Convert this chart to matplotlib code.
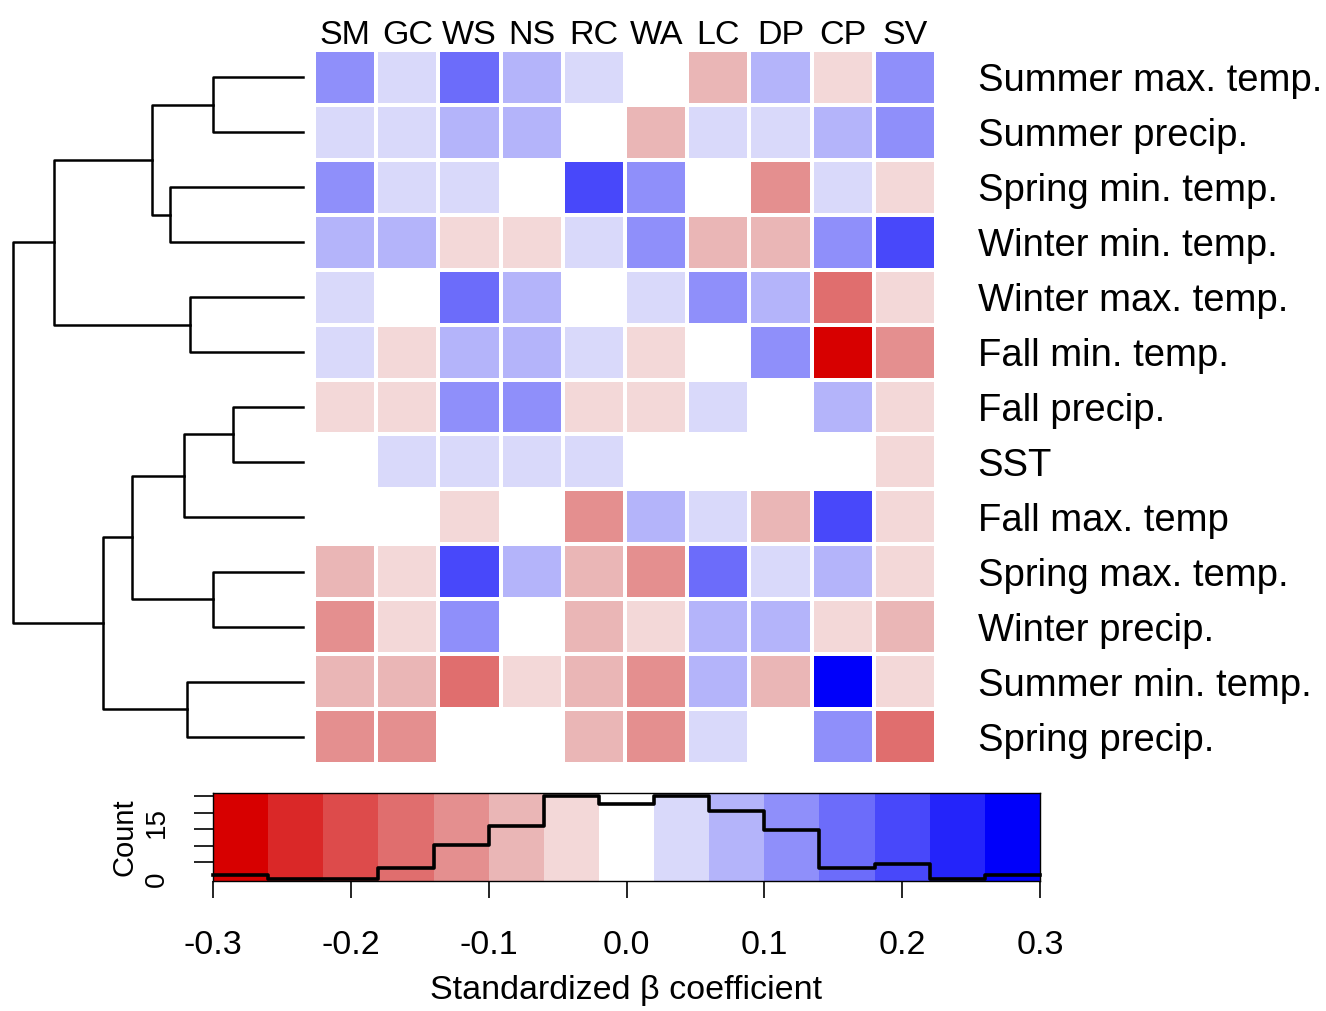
import numpy as np
import matplotlib.pyplot as plt
from matplotlib.colors import ListedColormap, BoundaryNorm

plt.rcParams['font.family'] = ['Liberation Sans', 'DejaVu Sans']

col_labels = ['SM', 'GC', 'WS', 'NS', 'RC', 'WA', 'LC', 'DP', 'CP', 'SV']
row_labels = ['Summer max. temp.', 'Summer precip.', 'Spring min. temp.',
              'Winter min. temp.', 'Winter max. temp.', 'Fall min. temp.',
              'Fall precip.', 'SST', 'Fall max. temp', 'Spring max. temp.',
              'Winter precip.', 'Summer min. temp.', 'Spring precip.']

# standardized beta coefficients, rows in dendrogram order (top to bottom)
beta = [
    [0.12, 0.04, 0.16, 0.08, 0.04, 0.00, -0.08, 0.08, -0.04, 0.12],
    [0.04, 0.04, 0.08, 0.08, 0.00, -0.08, 0.04, 0.04, 0.08, 0.12],
    [0.12, 0.04, 0.04, 0.00, 0.20, 0.12, 0.00, -0.12, 0.04, -0.04],
    [0.08, 0.08, -0.04, -0.04, 0.04, 0.12, -0.08, -0.08, 0.12, 0.20],
    [0.04, 0.00, 0.16, 0.08, 0.00, 0.04, 0.12, 0.08, -0.16, -0.04],
    [0.04, -0.04, 0.08, 0.08, 0.04, -0.04, 0.00, 0.12, -0.28, -0.12],
    [-0.04, -0.04, 0.12, 0.12, -0.04, -0.04, 0.04, 0.00, 0.08, -0.04],
    [0.00, 0.04, 0.04, 0.04, 0.04, 0.00, 0.00, 0.00, 0.00, -0.04],
    [0.00, 0.00, -0.04, 0.00, -0.12, 0.08, 0.04, -0.08, 0.20, -0.04],
    [-0.08, -0.04, 0.20, 0.08, -0.08, -0.12, 0.16, 0.04, 0.08, -0.04],
    [-0.12, -0.04, 0.12, 0.00, -0.08, -0.04, 0.08, 0.08, -0.04, -0.08],
    [-0.08, -0.08, -0.16, -0.04, -0.08, -0.12, 0.08, -0.08, 0.28, -0.04],
    [-0.12, -0.12, 0.00, 0.00, -0.08, -0.12, 0.04, 0.00, 0.12, -0.16],
]

# row dendrogram merges: (child a, child b, height); leaves are 0..12
merges = [
    (0, 1, 0.31), (2, 3, 0.46), (13, 14, 0.52), (4, 5, 0.39),
    (15, 16, 0.86), (6, 7, 0.24), (18, 8, 0.41), (9, 10, 0.31),
    (19, 20, 0.59), (11, 12, 0.40), (21, 22, 0.69), (17, 23, 1.00),
]

palette = ['#D70000', '#DA2828', '#DD4B4B', '#E06E6E', '#E48F8F', '#EAB6B6', '#F3D8D8',
           '#FFFFFF',
           '#D9D9FA', '#B4B4FA', '#8F8FFA', '#6C6CFA', '#4848FA', '#2424FA', '#0000FA']
bounds = np.linspace(-0.3, 0.3, 16)
cmap = ListedColormap(palette)
norm = BoundaryNorm(bounds, cmap.N)

data = np.array(beta)
nr, nc = data.shape

W, H = 1326, 1011
fig = plt.figure(figsize=(W / 100, H / 100), dpi=100)

def box(x0, y0, x1, y1):
    return [x0 / W, 1 - y1 / H, (x1 - x0) / W, (y1 - y0) / H]

# heatmap
ax = fig.add_axes(box(314, 50, 936, 764))
ax.pcolormesh(np.arange(nc + 1), np.arange(nr + 1), data, cmap=cmap, norm=norm,
              edgecolors='white', linewidth=1.5)
ax.set_xlim(0, nc)
ax.set_ylim(nr, 0)
ax.xaxis.tick_top()
ax.set_xticks(np.arange(nc) + 0.5, col_labels, fontsize=24.5)
ax.yaxis.tick_right()
ax.set_yticks(np.arange(nr) + 0.5, row_labels, fontsize=27.5)
ax.tick_params(axis='x', length=0, pad=-1)
ax.tick_params(axis='y', length=0, pad=30)
for s in ax.spines.values():
    s.set_visible(False)

# dendrogram
axd = fig.add_axes(box(13, 50, 303, 764))
pos = {i: (i + 0.5, 0.0) for i in range(nr)}
for k, (a, b, h) in enumerate(merges):
    ya, ha = pos[a]
    yb, hb = pos[b]
    axd.plot([ha, h, h, hb], [ya, ya, yb, yb], color='black', lw=1.8, clip_on=False)
    pos[nr + k] = ((ya + yb) / 2, h)
axd.set_xlim(1.0, 0.0)
axd.set_ylim(nr, 0)
axd.axis('off')

# color key with histogram
counts, _ = np.histogram(data.ravel(), bins=bounds)
cmax = counts.max()
axk = fig.add_axes(box(213, 793, 1040, 881))
ylo, yhi = -0.024 * cmax, 1.037 * cmax
axk.pcolormesh(bounds, [ylo, yhi], (bounds[:-1] + 0.02).reshape(1, -1), cmap=cmap, norm=norm)
axk.step(bounds, np.append(counts, counts[-1]), where='post', color='black', lw=2.6,
         clip_on=False)
axk.set_xlim(-0.3, 0.3)
axk.set_ylim(ylo, yhi)
xt = [-0.3, -0.2, -0.1, 0.0, 0.1, 0.2, 0.3]
axk.set_xticks(xt, ['-0.3', '-0.2', '-0.1', '0.0', '0.1', '0.2', '0.3'], fontsize=24.5)
axk.tick_params(axis='x', length=12, width=1.2, pad=23)
axk.set_yticks(np.linspace(0, cmax, 6), minor=True)
axk.set_yticks([0, 15], ['0', '15'])
axk.tick_params(axis='y', which='minor', length=14, width=1.2)
axk.tick_params(axis='y', which='major', length=0, pad=31, labelsize=20)
for lab in axk.get_yticklabels():
    lab.set_rotation(90)
    lab.set_va('center')
axk.set_ylabel('Count', fontsize=21, labelpad=4)
axk.set_xlabel('Standardized β coefficient', fontsize=24.5, labelpad=10)
for s in axk.spines.values():
    s.set_linewidth(1.0)

fig.savefig('out.png', dpi=100)
